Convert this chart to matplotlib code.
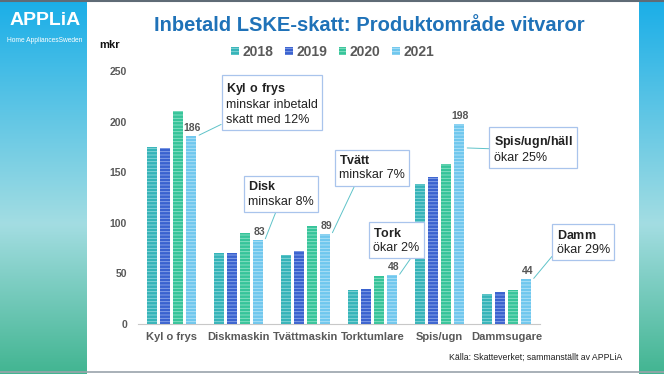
import numpy as np
import matplotlib.pyplot as plt
from matplotlib.colors import LinearSegmentedColormap

plt.rcParams["font.family"] = ["Liberation Sans", "DejaVu Sans"]
plt.rcParams["mathtext.fontset"] = "custom"
plt.rcParams["mathtext.bf"] = "Liberation Sans:bold"
plt.rcParams["mathtext.rm"] = "Liberation Sans"
plt.rcParams["hatch.linewidth"] = 0.6

# data
categories = ["Kyl o frys", "Diskmaskin", "Tvättmaskin", "Torktumlare", "Spis/ugn", "Dammsugare"]
years = ["2018", "2019", "2020", "2021"]
v2018 = [175, 70, 68, 34, 138, 30]
v2019 = [174, 70, 72, 35, 145, 32]
v2020 = [210, 90, 97, 47, 158, 34]
v2021 = [186, 83, 89, 48, 198, 44]
yticks = [0, 50, 100, 150, 200, 250]

notes_title = ["Kyl o frys", "Disk", "Tvätt", "Tork", "Spis/ugn/häll", "Damm"]
notes_text = ["minskar inbetald\nskatt med 12%", "minskar 8%", "minskar 7%", "ökar 2%", "ökar 25%", "ökar 29%"]

colors = ["#35b4b9", "#3a62cf", "#36c49a", "#6fc7ee"]
stripes = ["#8fd8da", "#8fa8ea", "#8fe2c6", "#b5e3f7"]

fig = plt.figure(figsize=(6.64, 3.74), dpi=100)
fig.patch.set_facecolor("white")

# side bars with gradient
side_cmap = LinearSegmentedColormap.from_list(
    "side", [(0, "#1aaee8"), (0.6, "#a3dde2"), (1, "#42b591")])
grad = np.linspace(0, 1, 256).reshape(-1, 1)
for rect in ([0, 0, 87 / 664, 1], [639 / 664, 0, 25 / 664, 1]):
    sax = fig.add_axes(rect)
    sax.imshow(grad, aspect="auto", cmap=side_cmap)
    sax.axis("off")

# thin gray frame lines
fig.add_artist(plt.Line2D([0, 1], [0.997, 0.997], color="#5f6b76", lw=1.5))
fig.add_artist(plt.Line2D([0, 1], [0.006, 0.006], color="#9aa3ab", lw=1.2))

# logo
fig.text(0.068, 0.945, "APPLiA", color="white", fontsize=14, fontweight="bold",
         ha="center", va="center")
fig.text(0.068, 0.893, "Home AppliancesSweden", color="white", fontsize=4.8,
         ha="center", va="center")

fig.text(0.556, 0.932, "Inbetald LSKE-skatt: Produktområde vitvaror",
         color="#1f72b8", fontsize=14.5, fontweight="bold",
         family=["Liberation Sans Narrow", "Liberation Sans"], ha="center", va="center")
fig.text(0.150, 0.880, "mkr", fontsize=8, fontweight="bold", color="#111111",
         ha="left", va="center")
fig.text(0.937, 0.045, "Källa: Skatteverket; sammanställt av APPLiA", fontsize=6.3,
         color="#222222", ha="right", va="center")

ax = fig.add_axes([138 / 664, 50 / 374, 402 / 664, 253 / 374])
x = np.arange(len(categories))
width = 0.164
step = 0.194
series = [v2018, v2019, v2020, v2021]
for k, vals in enumerate(series):
    ax.bar(x + (k - 1.5) * step, vals, width, color=colors[k], edgecolor=stripes[k],
           linewidth=0, hatch="-----", label=years[k])

# value labels on 2021
for i, v in enumerate(v2021):
    ax.text(x[i] + 1.5 * step + 0.02, v + 3, str(v), ha="center", va="bottom",
            fontsize=7.5, fontweight="bold", color="#555555")

# annotation boxes: text pos (left, top), anchor on bar, relpos on box
box_pos = [(0.813, 240), (1.142, 142), (2.50, 168), (3.007, 96), (4.81, 188), (5.75, 94)]
anchor_y = [186, 83, 89, 48, 174, 44]
relpos = [(0.0, 0.08), (0.45, 0.0), (0.27, 0.0), (0.88, 0.0), (0.0, 0.5), (0.0, 0.2)]
for i in range(len(categories)):
    title = r"$\mathbf{" + notes_title[i].replace(" ", r"\ ") + "}$"
    ax.annotate(title + "\n" + notes_text[i],
                xy=(x[i] + 1.5 * step + width / 2 + 0.02, anchor_y[i]),
                xytext=box_pos[i], textcoords="data",
                ha="left", va="top", fontsize=9, color="#222222", linespacing=1.25,
                bbox=dict(boxstyle="square,pad=0.35", fc="white", ec="#a9c4ec", lw=0.9),
                arrowprops=dict(arrowstyle="-", color="#5fc3c9", lw=0.7,
                                relpos=relpos[i], shrinkA=0, shrinkB=1),
                annotation_clip=False)

ax.set_xlim(-0.5, len(categories) - 0.5)
ax.set_ylim(0, 250)
ax.set_xticks(x)
ax.set_xticklabels(categories, fontsize=8, fontweight="bold", color="#595959")
ax.set_yticks(yticks)
ax.set_yticklabels([str(t) for t in yticks], fontsize=7.5, fontweight="bold", color="#595959")
ax.tick_params(length=0, pad=8)
ax.tick_params(axis="x", pad=6)
for s in ["top", "right", "left"]:
    ax.spines[s].set_visible(False)
ax.spines["bottom"].set_color("#c8c8c8")
ax.set_facecolor("none")

leg = ax.legend(loc="center", bbox_to_anchor=(0.501, 0.861), bbox_transform=fig.transFigure,
                ncol=4, frameon=False, handlelength=0.55, handleheight=0.55,
                handletextpad=0.25, columnspacing=0.85, prop=dict(size=10, weight="bold"))
for t in leg.get_texts():
    t.set_color("#595959")

fig.savefig("out.png", dpi=100)
